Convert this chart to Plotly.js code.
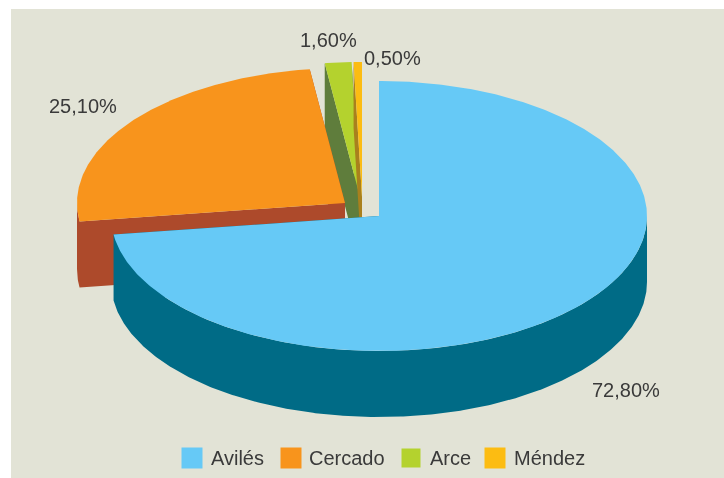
<!DOCTYPE html>
<html><head><meta charset="utf-8">
<script src="https://cdn.plot.ly/plotly-3.0.1.min.js"></script>
<style>html,body{margin:0;padding:0;background:#fff}#c{width:724px;height:478px;filter:blur(0.55px)}</style>
</head><body><div id="c"></div>
<script>
var categories = ["Avilés", "Cercado", "Arce", "Méndez"];
var shares = [72.8, 25.1, 1.6, 0.5];
var shareLabels = ["72,80%", "25,10%", "1,60%", "0,50%"];
var topColors = ["#66c9f6", "#f8941c", "#b4d22e", "#fcbc12"];
var sideColors = ["#006b86", "#ad4a2b", "#5f7d3c", "#a9801d"];

// Pie projection, in pixels of the 724x478 canvas
var RX = 268, RY = 135, DEPTH = 66;
var centres = [[379, 216], [345, 203], [360, 197], [362, 197]];
var drawOrder = [2, 3, 1, 0];
var labelAt = [[626, 390], [83, 106], [328, 40], [392, 58]];
var swatchX = [192, 291, 411, 495];
var swatchTextX = [211, 309, 430, 514];
var LEGEND_Y = 458;
var BG = "#e2e3d6";
var FRAME_LEFT = 11, FRAME_TOP = 9;

function pt(c, deg, dy) {
  var a = deg * Math.PI / 180;
  return [c[0] + RX * Math.sin(a), c[1] - RY * Math.cos(a) + (dy || 0)];
}
function arc(c, from, to, dy) {
  var out = [], n = Math.max(2, Math.ceil(Math.abs(to - from) * 2));
  for (var i = 0; i <= n; i++) out.push(pt(c, from + (to - from) * i / n, dy));
  return out;
}
function poly(points, name, color) {
  return {type: "scatter", mode: "lines", x: points.map(function (p) { return p ? p[0] : null; }),
    y: points.map(function (p) { return p ? p[1] : null; }), fill: "toself", fillcolor: color,
    line: {width: 0, color: color}, hoverinfo: "name", name: name, showlegend: false};
}
var cum = 0, ranges = shares.map(function (v) { var r = [cum, cum + v * 3.6]; cum = r[1]; return r; });

var traces = [];
drawOrder.forEach(function (i) {
  var c = centres[i], r = ranges[i], a = r[0], b = r[1], side = [];
  // two cut faces
  [a, b].forEach(function (d) {
    side.push([c[0], c[1]], pt(c, d), pt(c, d, DEPTH), [c[0], c[1] + DEPTH], [c[0], c[1]], null);
  });
  // outer wall, front part only (90 to 270 degrees)
  var w0 = Math.max(a, 90), w1 = Math.min(b, 270);
  if (w1 > w0) side = side.concat(arc(c, w0, w1), arc(c, w1, w0, DEPTH), [pt(c, w0)]);
  traces.push(poly(side, categories[i] + " lateral", sideColors[i]));
  traces.push(poly([c].concat(arc(c, a, b), [c]), categories[i], topColors[i]));
});
// legend row
categories.forEach(function (name, i) {
  traces.push({type: "scatter", mode: "markers", x: [swatchX[i]], y: [LEGEND_Y], name: name, showlegend: false,
    marker: {symbol: "square", size: i === 2 ? 19 : 21, color: topColors[i], line: {width: 0}}, hoverinfo: "name"});
});

var annotations = shareLabels.map(function (t, i) {
  return {x: labelAt[i][0], y: labelAt[i][1], text: t, showarrow: false, xanchor: "center", yanchor: "middle",
    font: {family: "Liberation Sans", size: 20, color: "#3a3a3a"}};
}).concat(categories.map(function (t, i) {
  return {x: swatchTextX[i], y: LEGEND_Y, text: t, showarrow: false, xanchor: "left", yanchor: "middle", xshift: -2,
    font: {family: "Liberation Sans", size: 20, color: "#3a3a3a"}};
}));

Plotly.newPlot("c", traces, {
  width: 724, height: 478, margin: {l: FRAME_LEFT, r: 0, t: FRAME_TOP, b: 0},
  paper_bgcolor: "#ffffff", plot_bgcolor: BG, showlegend: false,
  xaxis: {range: [FRAME_LEFT, 724], visible: false, fixedrange: true},
  yaxis: {range: [478, FRAME_TOP], visible: false, fixedrange: true},
  annotations: annotations
}, {displayModeBar: false, staticPlot: true});
</script></body></html>
